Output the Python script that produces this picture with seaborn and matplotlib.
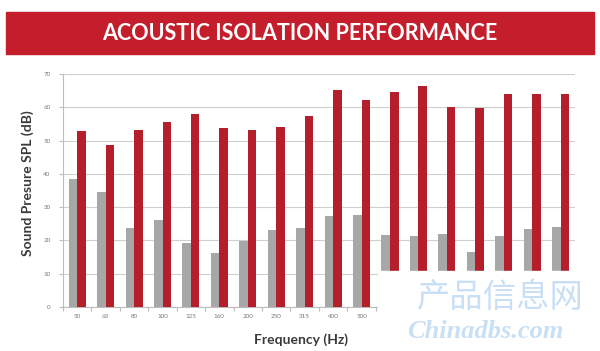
import matplotlib
matplotlib.use("Agg")
import matplotlib.pyplot as plt
import seaborn as sns
import pandas as pd
from matplotlib.patches import Rectangle
from matplotlib.ticker import FixedLocator

# ----------------------- data ------------------------------------------------
frequencies = ["50", "63", "80", "100", "125", "160", "200", "250", "315",
               "400", "500", "630", "800", "1000", "1250", "1600", "2000", "2500"]
without_isolation = [38.6, 34.5, 23.7, 26.0, 19.2, 16.1, 19.8, 23.1, 23.7,
                     27.4, 27.7, 21.7, 21.4, 21.9, 16.5, 21.2, 23.5, 24.0]
with_isolation = [52.8, 48.6, 53.1, 55.5, 57.9, 53.7, 53.3, 54.0, 57.4,
                  65.1, 62.1, 64.5, 66.4, 60.0, 59.8, 64.1, 63.9, 63.9]
series_names = ["Without isolation", "With isolation"]
y_ticks = [0, 10, 20, 30, 40, 50, 60, 70]

GREY = "#A7A7A7"
RED = "#B51F2B"
BANNER = "#C41E2C"

df = pd.DataFrame({
    "Frequency": frequencies * 2,
    "SPL": without_isolation + with_isolation,
    "Series": [series_names[0]] * len(frequencies) + [series_names[1]] * len(frequencies),
})

sns.set_theme(style="white")
plt.rcParams["font.family"] = ["Lato", "DejaVu Sans"]

fig = plt.figure(figsize=(6.0, 3.51), dpi=100)
ax = fig.add_axes([0.105, 0.1254, 0.853, 0.6636])

sns.barplot(data=df, x="Frequency", y="SPL", hue="Series", order=frequencies,
            hue_order=series_names, palette=[GREY, RED], width=0.6,
            saturation=1, linewidth=0, legend=False, ax=ax, zorder=3)

ax.set_xlim(-0.5, len(frequencies) - 0.5)
ax.set_ylim(0, 70)
ax.set_yticks(y_ticks)
ax.yaxis.grid(True, color="#CFCFCF", linewidth=0.8, zorder=0)
ax.set_axisbelow(True)

for s in ["top", "right"]:
    ax.spines[s].set_visible(False)
for s in ["left", "bottom"]:
    ax.spines[s].set_color("#BDBDBD")
    ax.spines[s].set_linewidth(0.8)

ax.tick_params(axis="x", which="major", length=0, labelsize=4.5,
               labelcolor="#7A7A7A", pad=5)
ax.xaxis.set_minor_locator(FixedLocator([i + 0.5 for i in range(-1, len(frequencies))]))
ax.tick_params(axis="x", which="minor", bottom=True, length=3, color="#BDBDBD", width=0.8)
ax.tick_params(axis="y", left=True, length=3, color="#BDBDBD", width=0.8,
               labelsize=4.5, labelcolor="#7A7A7A", pad=6)

ax.set_xlabel("Frequency (Hz)", fontsize=10, color="#3A3A3A", fontweight="bold",
              va="center")
ax.xaxis.set_label_coords((301 / 600 - 0.105) / 0.853, -(340 - 307) / 233)
ax.set_ylabel("Sound Presure SPL (dB)", fontsize=10, color="#3A3A3A",
              fontweight="bold", va="center")
ax.yaxis.set_label_coords((28 / 600 - 0.105) / 0.853, (1 - 183 / 351 - 0.1254) / 0.6636)

# title banner
fig.patches.append(Rectangle((6 / 600, 1 - 54 / 351), 588 / 600, 42 / 351,
                             transform=fig.transFigure, color=BANNER, zorder=5))
fig.text(0.5, 1 - 33 / 351, "ACOUSTIC ISOLATION PERFORMANCE", ha="center",
         va="center", color="white", fontsize=15.5, fontweight="bold", zorder=6)

# blanked lower-right corner with watermark
fig.patches.append(Rectangle((378 / 600, 0), 222 / 600, 1 - 271 / 351,
                             transform=fig.transFigure, color="white", zorder=10))
fig.text(500 / 600, 1 - 297 / 351, "产品信息网", ha="center", va="center",
         color="#C9DFF4", fontsize=24, family=["Noto Sans CJK SC", "DejaVu Sans"],
         zorder=11)
fig.text(485 / 600, 1 - 331 / 351, "Chinadbs.com", ha="center", va="center",
         color="#C9DFF4", fontsize=19, fontweight="bold", fontstyle="italic",
         family=["Liberation Serif", "DejaVu Serif"], zorder=11)

fig.savefig("out.png", dpi=100)
